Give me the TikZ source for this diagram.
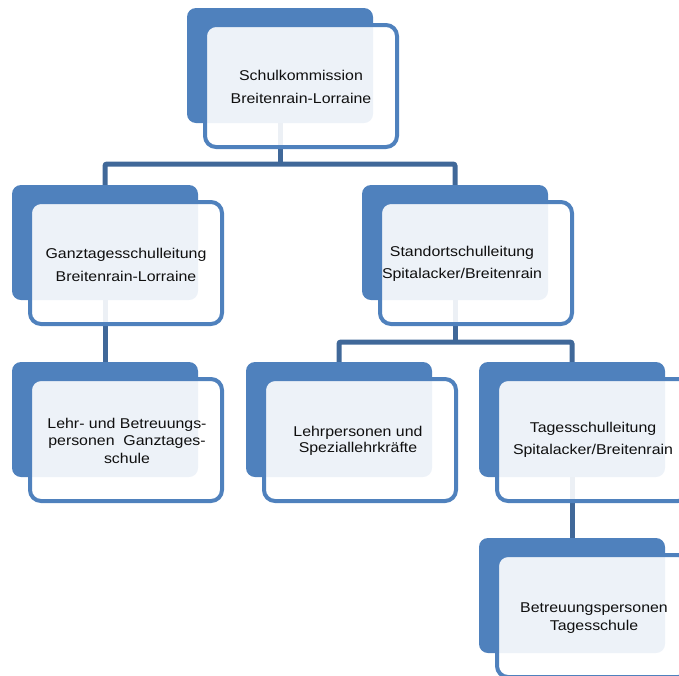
\documentclass[tikz,border=0pt]{standalone}
\usepackage{fontspec}
\newfontfamily\boxfont[FakeStretch=1.12]{Liberation Sans}
\usetikzlibrary{backgrounds}
\definecolor{accent}{RGB}{79,129,189}
\definecolor{connc}{RGB}{64,104,153}
\definecolor{txt}{RGB}{15,15,15}
\tikzset{
  backbox/.style={rectangle, rounded corners=9pt, fill=accent, minimum width=186pt,
    minimum height=115pt, inner sep=0pt, outer sep=0pt, anchor=north west},
  frontbox/.style={rectangle, rounded corners=11pt, draw=accent, line width=4pt,
    fill=white, fill opacity=0.9, minimum width=192pt, minimum height=122pt,
    inner sep=0pt, anchor=north west},
  lbl/.style={align=center, text=txt, inner sep=0pt},
  conn/.style={draw=connc, line width=5pt, rounded corners=2pt}
}
\begin{document}
\begin{tikzpicture}[x=1pt,y=-1pt]
\useasboundingbox (0,0) rectangle (679,675);
\clip (0,0) rectangle (679,675);
% top
\node[backbox] (topB) at (187,8) {};
\node[frontbox] (topF) at (203,23) {};
\node[lbl,font=\boxfont\fontsize{14.2}{23}\selectfont] (topT) at (301,87) {Schulkommission\\Breitenrain-Lorraine};
% level 2
\node[backbox] (ganzB) at (12,185) {};
\node[frontbox] (ganzF) at (28,200) {};
\node[lbl,font=\boxfont\fontsize{14.2}{23}\selectfont] (ganzT) at (126,264.5) {Ganztagesschulleitung\\Breitenrain-Lorraine};
\node[backbox] (standB) at (362,185) {};
\node[frontbox] (standF) at (378,200) {};
\node[lbl,font=\boxfont\fontsize{14.2}{22}\selectfont] (standT) at (462,264) {Standortschulleitung\\Spitalacker/Breitenrain};
% level 3
\node[backbox] (lehrB) at (12,362) {};
\node[frontbox] (lehrF) at (28,377) {};
\node[lbl,font=\boxfont\fontsize{14.2}{17.5}\selectfont] (lehrT) at (127,440.5) {Lehr- und Betreuungs-\\personen\ \ Ganztages-\\schule};
\node[backbox] (lehrpB) at (246,362) {};
\node[frontbox] (lehrpF) at (262,377) {};
\node[lbl,font=\boxfont\fontsize{14.2}{16}\selectfont] (lehrpT) at (358,441) {Lehrpersonen und\\Speziallehrkräfte};
\node[backbox] (tagB) at (479,362) {};
\node[frontbox] (tagF) at (495,377) {};
\node[lbl,font=\boxfont\fontsize{14.2}{22}\selectfont] (tagT) at (593,440) {Tagesschulleitung\\Spitalacker/Breitenrain};
% level 4
\node[backbox] (betrB) at (479,538) {};
\node[frontbox] (betrF) at (495,553) {};
\node[lbl,font=\boxfont\fontsize{14.2}{18}\selectfont] (betrT) at (594,618) {Betreuungspersonen\\Tagesschule};
% connectors
\coordinate (j1) at (280,164);
\coordinate (j2) at (455,342);
\begin{scope}[on background layer]
\draw[conn] (topB.center) -- (j1);
\draw[conn] (ganzB.north) |- (j1) -| (standB.north);
\draw[conn] (ganzB.center) -- (lehrB.north);
\draw[conn] (standB.center) -- (j2);
\draw[conn] (lehrpB.north) |- (j2) -| (tagB.north);
\draw[conn] (tagB.center) -- (betrB.north);
\end{scope}
\end{tikzpicture}
\end{document}
